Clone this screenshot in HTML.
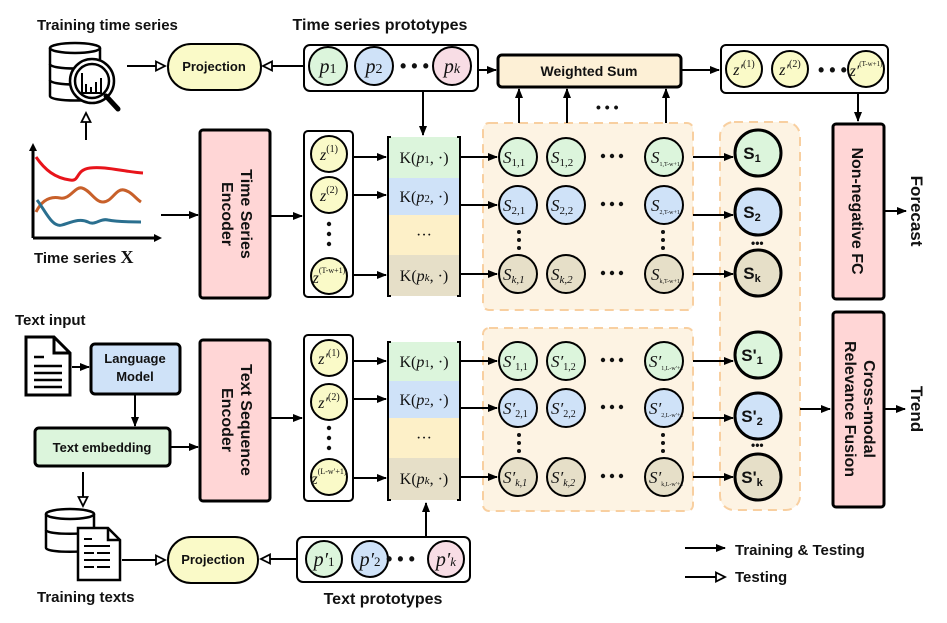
<!DOCTYPE html><html><head><style>body{margin:0;background:#fff}svg{display:block}
.b{font-family:"Liberation Sans",sans-serif;font-weight:bold}
.m{font-family:"Liberation Serif",serif}
</style></head><body>
<svg width="947" height="623" viewBox="0 0 947 623" xmlns="http://www.w3.org/2000/svg">
<defs>
<marker id="f" markerWidth="10" markerHeight="10" refX="9" refY="5" orient="auto" markerUnits="userSpaceOnUse"><path d="M0,1 L10,5 L0,9z" fill="#000"/></marker>
<marker id="o" markerWidth="12" markerHeight="12" refX="10" refY="6" orient="auto" markerUnits="userSpaceOnUse"><path d="M1,1.5 L10,6 L1,10.5z" fill="#fff" stroke="#000" stroke-width="1.8"/></marker>
</defs>
<g stroke="#000" stroke-width="2" fill="none">
<!-- regions -->
<rect x="483" y="123" width="210" height="187" rx="6" fill="#fdf3e3" stroke="#f8cfa0" stroke-dasharray="9,6"/>
<rect x="483" y="328" width="210" height="183" rx="6" fill="#fdf3e3" stroke="#f8cfa0" stroke-dasharray="9,6"/>
<rect x="720" y="122" width="80" height="388" rx="14" fill="#fdf3e3" stroke="#f8cfa0" stroke-dasharray="9,6"/>
<!-- top boxes -->
<rect x="304" y="45" width="174" height="46" rx="6" fill="#fff"/>
<rect x="168" y="44" width="93" height="46" rx="23" fill="#fafac8"/>
<rect x="498" y="55" width="183" height="32" rx="4" fill="#fdf0d6" stroke-width="3"/>
<rect x="721" y="45" width="167" height="48" rx="5" fill="#fff"/>
<rect x="200" y="130" width="70" height="168" rx="3" fill="#ffd6d6" stroke-width="3"/>
<rect x="304" y="131" width="49" height="166" rx="4" fill="#fff"/>
<rect x="833" y="124" width="51" height="175" rx="3" fill="#ffd6d6" stroke-width="3"/>
<!-- bottom boxes -->
<rect x="91" y="344" width="89" height="50" rx="4" fill="#cfe2f8" stroke-width="3"/>
<rect x="35" y="428" width="135" height="38" rx="4" fill="#dcf5dc" stroke-width="3"/>
<rect x="200" y="340" width="70" height="161" rx="3" fill="#ffd6d6" stroke-width="3"/>
<rect x="304" y="335" width="49" height="166" rx="4" fill="#fff"/>
<rect x="833" y="312" width="51" height="195" rx="3" fill="#ffd6d6" stroke-width="3"/>
<rect x="168" y="537" width="90" height="46" rx="23" fill="#fafac8"/>
<rect x="297" y="537" width="173" height="45" rx="6" fill="#fff"/>
</g>
<!-- kernel columns -->
<g stroke="none">
<rect x="388" y="137" width="72" height="41" fill="#dcf5dc"/><rect x="388" y="178" width="72" height="37" fill="#cfe2f8"/><rect x="388" y="215" width="72" height="40" fill="#fdf0c8"/><rect x="388" y="255" width="72" height="41" fill="#e6dfc8"/>
<rect x="388" y="342" width="72" height="39" fill="#dcf5dc"/><rect x="388" y="381" width="72" height="37" fill="#cfe2f8"/><rect x="388" y="418" width="72" height="40" fill="#fdf0c8"/><rect x="388" y="458" width="72" height="42" fill="#e6dfc8"/>
</g>
<g stroke="#000" stroke-width="2" fill="none">
<path d="M391,137 H388 V296 H391 M457,137 H460 V296 H457"/>
<path d="M391,342 H388 V500 H391 M457,342 H460 V500 H457"/>
</g>
<!-- circles -->
<g stroke="#000" stroke-width="2">
<circle cx="328" cy="66" r="19" fill="#dcf5dc"/><circle cx="374" cy="66" r="19" fill="#cfe2f8"/><circle cx="452" cy="66" r="19" fill="#f8dde5"/>
<circle cx="744" cy="69" r="18" fill="#fafac8"/><circle cx="790" cy="69" r="18" fill="#fafac8"/><circle cx="866" cy="69" r="18" fill="#fafac8"/>
<circle cx="329" cy="154" r="18" fill="#fafac8"/><circle cx="329" cy="195" r="18" fill="#fafac8"/><circle cx="329" cy="276" r="18" fill="#fafac8"/>
<circle cx="329" cy="358" r="18" fill="#fafac8"/><circle cx="329" cy="402" r="18" fill="#fafac8"/><circle cx="329" cy="477" r="18" fill="#fafac8"/>
<circle cx="518" cy="157" r="19" fill="#dcf5dc"/><circle cx="566" cy="157" r="19" fill="#dcf5dc"/><circle cx="664" cy="157" r="19" fill="#dcf5dc"/>
<circle cx="518" cy="205" r="19" fill="#cfe2f8"/><circle cx="566" cy="205" r="19" fill="#cfe2f8"/><circle cx="664" cy="205" r="19" fill="#cfe2f8"/>
<circle cx="518" cy="274" r="19" fill="#e6dfc8"/><circle cx="566" cy="274" r="19" fill="#e6dfc8"/><circle cx="664" cy="274" r="19" fill="#e6dfc8"/>
<circle cx="518" cy="361" r="19" fill="#dcf5dc"/><circle cx="566" cy="361" r="19" fill="#dcf5dc"/><circle cx="664" cy="361" r="19" fill="#dcf5dc"/>
<circle cx="518" cy="408" r="19" fill="#cfe2f8"/><circle cx="566" cy="408" r="19" fill="#cfe2f8"/><circle cx="664" cy="408" r="19" fill="#cfe2f8"/>
<circle cx="518" cy="477" r="19" fill="#e6dfc8"/><circle cx="566" cy="477" r="19" fill="#e6dfc8"/><circle cx="664" cy="477" r="19" fill="#e6dfc8"/>
<circle cx="758" cy="153" r="23" fill="#dcf5dc" stroke-width="3"/><circle cx="758" cy="212" r="23" fill="#cfe2f8" stroke-width="3"/><circle cx="758" cy="273" r="23" fill="#e6dfc8" stroke-width="3"/>
<circle cx="758" cy="355" r="23" fill="#dcf5dc" stroke-width="3"/><circle cx="758" cy="416" r="23" fill="#cfe2f8" stroke-width="3"/><circle cx="758" cy="477" r="23" fill="#e6dfc8" stroke-width="3"/>
<circle cx="324" cy="559" r="18" fill="#dcf5dc"/><circle cx="370" cy="559" r="18" fill="#cfe2f8"/><circle cx="446" cy="559" r="18" fill="#f8dde5"/>
</g>
<!-- arrows -->
<g stroke="#000" stroke-width="2" fill="none">
<path d="M127,66 H165" marker-end="url(#o)"/><path d="M304,66 H263" marker-end="url(#o)"/>
<path d="M86,140 V113" marker-end="url(#o)"/>
<path d="M161,215 H198" marker-end="url(#f)"/><path d="M270,216 H302" marker-end="url(#f)"/>
<path d="M423,91 V135" marker-end="url(#f)"/>
<path d="M353,157 H386" marker-end="url(#f)"/><path d="M353,195 H386" marker-end="url(#f)"/><path d="M353,275 H386" marker-end="url(#f)"/>
<path d="M460,157 H497" marker-end="url(#f)"/><path d="M460,205 H497" marker-end="url(#f)"/><path d="M460,274 H497" marker-end="url(#f)"/>
<path d="M519,123 V89" marker-end="url(#f)"/><path d="M567,123 V89" marker-end="url(#f)"/><path d="M666,123 V89" marker-end="url(#f)"/>
<path d="M478,70 H496" marker-end="url(#f)"/><path d="M681,70 H719" marker-end="url(#f)"/>
<path d="M858,93 V121" marker-end="url(#f)"/>
<path d="M693,157 H733" marker-end="url(#f)"/><path d="M693,215 H733" marker-end="url(#f)"/><path d="M693,274 H733" marker-end="url(#f)"/>
<path d="M884,211 H906" marker-end="url(#f)"/>
<path d="M72,367 H89" marker-end="url(#f)"/><path d="M135,394 V426" marker-end="url(#f)"/>
<path d="M170,447 H198" marker-end="url(#f)"/><path d="M270,418 H302" marker-end="url(#f)"/>
<path d="M353,361 H386" marker-end="url(#f)"/><path d="M353,399 H386" marker-end="url(#f)"/><path d="M353,478 H386" marker-end="url(#f)"/>
<path d="M460,361 H497" marker-end="url(#f)"/><path d="M460,408 H497" marker-end="url(#f)"/><path d="M460,477 H497" marker-end="url(#f)"/>
<path d="M426,537 V503" marker-end="url(#f)"/>
<path d="M693,361 H733" marker-end="url(#f)"/><path d="M693,418 H733" marker-end="url(#f)"/><path d="M693,477 H733" marker-end="url(#f)"/>
<path d="M800,409 H830" marker-end="url(#f)"/><path d="M884,409 H905" marker-end="url(#f)"/>
<path d="M83,472 V506" marker-end="url(#o)"/><path d="M122,560 H165" marker-end="url(#o)"/><path d="M297,559 H261" marker-end="url(#o)"/>
<path d="M685,548 H725" marker-end="url(#f)"/><path d="M685,577 H725" marker-end="url(#o)"/>
</g>
<!-- chart -->
<g fill="none" stroke-width="3">
<path d="M33,238 V147 M33,238 H158" stroke="#000"/>
<path d="M36,157 C45,170 55,178 70,180 C80,182 75,170 90,168 C105,166 125,172 143,173" stroke="#e8141b"/>
<path d="M36,212 C42,200 50,196 60,198 C70,200 75,186 82,188 C90,190 95,202 103,202 C112,202 116,188 124,190 C132,192 135,198 141,202" stroke="#c8602a"/>
<path d="M37,200 C45,210 52,228 62,225 C72,222 80,218 88,222 C95,226 100,218 108,220 C118,222 130,222 141,222" stroke="#2a6f8f"/>
</g>
<path d="M33,143 l-4,8 h8z M162,238 l-8,-4 v8z" fill="#000"/>
<!-- db icon -->
<g stroke="#000" stroke-width="2.5" fill="#fff">
<path d="M50,48 v48 c0,6 50,6 50,0 v-48"/><ellipse cx="75" cy="48" rx="25" ry="5"/>
<path d="M50,64 c0,6 50,6 50,0 M50,80 c0,6 50,6 50,0" fill="none"/>
<circle cx="92" cy="81" r="22"/><circle cx="92" cy="81" r="17" fill="none"/>
<path d="M106,96 l12,13" stroke-width="5" stroke-linecap="round"/>
<path d="M82,73 v20 h20 M86,92 v-8 M91,92 v-5 M96,92 v-10 M101,92 v-14" fill="none" stroke-width="2"/>
</g>
<!-- doc icon -->
<g stroke="#000" stroke-width="3" fill="#fff">
<path d="M26,337 h28 l16,16 v42 h-44z"/><path d="M54,337 v16 h16" fill="none"/>
<path d="M34,357 h10 M34,366 h28 M34,373 h28 M34,380 h28 M34,387 h28" stroke-width="2.5"/>
</g>
<!-- training texts icons -->
<g stroke="#000" stroke-width="2.5" fill="#fff">
<path d="M46,514 v34 c0,5 48,5 48,0 v-34"/><ellipse cx="70" cy="514" rx="24" ry="5"/>
<path d="M46,530 c0,5 48,5 48,0" fill="none"/>
<path d="M78,528 h30 l12,12 v40 h-42z"/><path d="M108,528 v12 h12" fill="none"/>
<path d="M84,539 h8 M84,546 h26 M84,553 h10 M97,553 h13 M84,560 h26 M84,567 h10 M97,567 h13" stroke-width="2"/>
</g>
<!-- bold labels -->
<g class="b" font-size="15" fill="#111">
<text x="37" y="30">Training time series</text>
<text x="380" y="30" text-anchor="middle" font-size="16">Time series prototypes</text>
<text x="214" y="71" text-anchor="middle" font-size="13">Projection</text>
<text x="34" y="263">Time series <tspan class="m" font-size="18">X</tspan></text>
<text x="589" y="76" text-anchor="middle" font-size="14">Weighted Sum</text>
<text x="15" y="325">Text input</text>
<text x="135" y="363" text-anchor="middle" font-size="13">Language</text>
<text x="135" y="381" text-anchor="middle" font-size="13">Model</text>
<text x="102" y="452" text-anchor="middle" font-size="13">Text embedding</text>
<text x="213" y="564" text-anchor="middle" font-size="13">Projection</text>
<text x="37" y="602">Training texts</text>
<text x="383" y="604" text-anchor="middle" font-size="16">Text prototypes</text>
<text x="735" y="555">Training &amp; Testing</text>
<text x="735" y="582">Testing</text>
<g font-size="16">
<text transform="translate(241,214) rotate(90)" text-anchor="middle">Time Series</text>
<text transform="translate(222,214) rotate(90)" text-anchor="middle">Encoder</text>
<text transform="translate(241,420) rotate(90)" text-anchor="middle">Text Sequence</text>
<text transform="translate(222,420) rotate(90)" text-anchor="middle">Encoder</text>
<text transform="translate(852,211) rotate(90)" text-anchor="middle">Non-negative FC</text>
<text transform="translate(864,409) rotate(90)" text-anchor="middle">Cross-modal</text>
<text transform="translate(845,409) rotate(90)" text-anchor="middle">Relevance Fusion</text>
<text transform="translate(911,211) rotate(90)" text-anchor="middle" font-size="17">Forecast</text>
<text transform="translate(911,409) rotate(90)" text-anchor="middle" font-size="17">Trend</text>
</g>
<g font-size="17" text-anchor="middle">
<text x="752" y="159">S<tspan font-size="11" dy="3">1</tspan></text><text x="752" y="218">S<tspan font-size="11" dy="3">2</tspan></text><text x="752" y="279">S<tspan font-size="11" dy="3">k</tspan></text>
<text x="752" y="361">S'<tspan font-size="11" dy="3">1</tspan></text><text x="752" y="422">S'<tspan font-size="11" dy="3">2</tspan></text><text x="752" y="483">S'<tspan font-size="11" dy="3">k</tspan></text>
</g>
<g font-size="18"><text x="400" y="72">• • •</text><text x="818" y="76">• • •</text><text x="386" y="565">• • •</text><text x="596" y="112" font-size="14">• • •</text>
<text x="751" y="247" font-size="12">•••</text><text x="751" y="449" font-size="12">•••</text></g>
</g>
<!-- math labels -->
<g class="m" font-style="italic" fill="#111">
<g font-size="20" text-anchor="middle"><text x="328" y="73">p<tspan font-style="normal" font-size="14">1</tspan></text><text x="374" y="73">p<tspan font-style="normal" font-size="14">2</tspan></text><text x="452" y="73">p<tspan font-size="14">k</tspan></text>
<text x="324" y="566">p′<tspan font-style="normal" font-size="13">1</tspan></text><text x="370" y="566">p′<tspan font-style="normal" font-size="13">2</tspan></text><text x="446" y="566">p′<tspan font-size="13">k</tspan></text></g>
<g font-size="16" text-anchor="middle">
<text x="329" y="160">z<tspan font-style="normal" font-size="10" dy="-8">(1)</tspan></text><text x="329" y="201">z<tspan font-style="normal" font-size="10" dy="-8">(2)</tspan></text><text x="329" y="283">z<tspan font-style="normal" font-size="8" dy="-10">(T-w+1)</tspan></text>
<text x="329" y="364">z′<tspan font-style="normal" font-size="10" dy="-8">(1)</tspan></text><text x="329" y="408">z′<tspan font-style="normal" font-size="10" dy="-8">(2)</tspan></text><text x="329" y="484">z<tspan font-style="normal" font-size="8" dy="-10">(L-w′+1)</tspan></text>
<text x="744" y="75">z′<tspan font-style="normal" font-size="10" dy="-8">(1)</tspan></text><text x="790" y="75">z′<tspan font-style="normal" font-size="10" dy="-8">(2)</tspan></text><text x="866" y="76">z′<tspan font-style="normal" font-size="7" dy="-10">(T-w+1)</tspan></text>
</g>
<g font-size="16" font-style="normal" text-anchor="middle">
<text x="424" y="163">K(<tspan font-style="italic">p</tspan><tspan font-size="11">1</tspan>, ·)</text><text x="424" y="202">K(<tspan font-style="italic">p</tspan><tspan font-size="11">2</tspan>, ·)</text><text x="424" y="240">···</text><text x="424" y="281">K(<tspan font-style="italic">p</tspan><tspan font-size="11" font-style="italic">k</tspan>, ·)</text>
<text x="424" y="367">K(<tspan font-style="italic">p</tspan><tspan font-size="11">1</tspan>, ·)</text><text x="424" y="405">K(<tspan font-style="italic">p</tspan><tspan font-size="11">2</tspan>, ·)</text><text x="424" y="443">···</text><text x="424" y="484">K(<tspan font-style="italic">p</tspan><tspan font-size="11" font-style="italic">k</tspan>, ·)</text>
</g>
<g font-size="17">
<text x="503" y="163">S<tspan font-style="normal" font-size="11" dy="3">1,1</tspan></text><text x="551" y="163">S<tspan font-style="normal" font-size="11" dy="3">1,2</tspan></text><text x="651" y="163">S<tspan font-style="normal" font-size="6" dy="3">1,T-w+1</tspan></text>
<text x="503" y="211">S<tspan font-style="normal" font-size="11" dy="3">2,1</tspan></text><text x="551" y="211">S<tspan font-style="normal" font-size="11" dy="3">2,2</tspan></text><text x="651" y="211">S<tspan font-style="normal" font-size="6" dy="3">2,T-w+1</tspan></text>
<text x="503" y="280">S<tspan font-size="11" dy="3">k,1</tspan></text><text x="551" y="280">S<tspan font-size="11" dy="3">k,2</tspan></text><text x="651" y="280">S<tspan font-style="normal" font-size="6" dy="3">k,T-w+1</tspan></text>
<text x="503" y="367">S′<tspan font-style="normal" font-size="10" dy="3">1,1</tspan></text><text x="551" y="367">S′<tspan font-style="normal" font-size="10" dy="3">1,2</tspan></text><text x="649" y="367">S′<tspan font-style="normal" font-size="6" dy="3">1,L-w′+1</tspan></text>
<text x="503" y="414">S′<tspan font-style="normal" font-size="10" dy="3">2,1</tspan></text><text x="551" y="414">S′<tspan font-style="normal" font-size="10" dy="3">2,2</tspan></text><text x="649" y="414">S′<tspan font-style="normal" font-size="6" dy="3">2,L-w′+1</tspan></text>
<text x="503" y="483">S′<tspan font-size="10" dy="3">k,1</tspan></text><text x="551" y="483">S′<tspan font-size="10" dy="3">k,2</tspan></text><text x="649" y="483">S′<tspan font-style="normal" font-size="6" dy="3">k,L-w′+1</tspan></text>
</g>
</g>
<g fill="#111">
<circle cx="329" cy="224" r="2.2"/><circle cx="329" cy="234" r="2.2"/><circle cx="329" cy="244" r="2.2"/>
<circle cx="329" cy="428" r="2.2"/><circle cx="329" cy="438" r="2.2"/><circle cx="329" cy="448" r="2.2"/>
<circle cx="519" cy="232" r="2"/><circle cx="519" cy="240" r="2"/><circle cx="519" cy="248" r="2"/>
<circle cx="663" cy="232" r="2"/><circle cx="663" cy="240" r="2"/><circle cx="663" cy="248" r="2"/>
<circle cx="519" cy="435" r="2"/><circle cx="519" cy="443" r="2"/><circle cx="519" cy="451" r="2"/>
<circle cx="663" cy="435" r="2"/><circle cx="663" cy="443" r="2"/><circle cx="663" cy="451" r="2"/>
<circle cx="603" cy="156" r="2.2"/><circle cx="612" cy="156" r="2.2"/><circle cx="621" cy="156" r="2.2"/>
<circle cx="603" cy="204" r="2.2"/><circle cx="612" cy="204" r="2.2"/><circle cx="621" cy="204" r="2.2"/>
<circle cx="603" cy="273" r="2.2"/><circle cx="612" cy="273" r="2.2"/><circle cx="621" cy="273" r="2.2"/>
<circle cx="603" cy="360" r="2.2"/><circle cx="612" cy="360" r="2.2"/><circle cx="621" cy="360" r="2.2"/>
<circle cx="603" cy="407" r="2.2"/><circle cx="612" cy="407" r="2.2"/><circle cx="621" cy="407" r="2.2"/>
<circle cx="603" cy="476" r="2.2"/><circle cx="612" cy="476" r="2.2"/><circle cx="621" cy="476" r="2.2"/>
</g>
</svg>
</body></html>
